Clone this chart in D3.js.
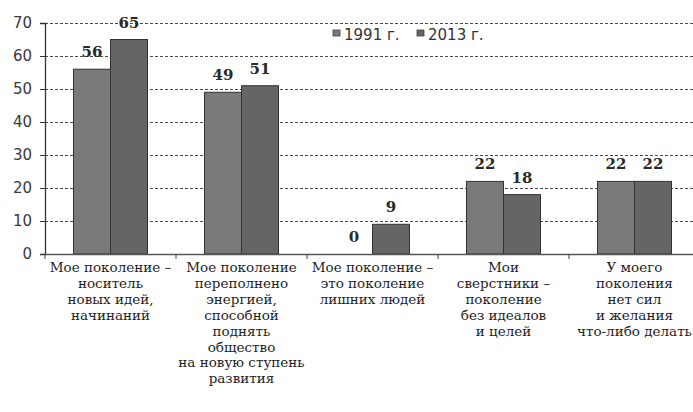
<!DOCTYPE html>
<html>
<head>
<meta charset="utf-8">
<script src="https://cdn.jsdelivr.net/npm/d3@7"></script>
<style>
  body { margin: 0; background: #fff; }
  svg { display: block; }
</style>
</head>
<body>
<div id="chart"></div>
<script>
const categories = [
  ['Мое поколение –', 'носитель', 'новых идей,', 'начинаний'],
  ['Мое поколение', 'переполнено', 'энергией,', 'способной', 'поднять', 'общество', 'на новую ступень', 'развития'],
  ['Мое поколение –', 'это поколение', 'лишних людей'],
  ['Мои', 'сверстники –', 'поколение', 'без идеалов', 'и целей'],
  ['У моего', 'поколения', 'нет сил', 'и желания', 'что-либо делать']
]
const seriesNames = ['1991 г.', '2013 г.']
const values1991 = [56, 49, 0, 22, 22]
const values2013 = [65, 51, 9, 18, 22]
const yTicks = [0, 10, 20, 30, 40, 50, 60, 70]

const width = 693, height = 412
const margin = { top: 23, left: 45, bottom: 158, right: -7 }
const colors = ['#7a7a7a', '#656565']

const svg = d3.select('#chart')
  .append('svg')
  .attr('width', width)
  .attr('height', height)

const y = d3.scaleLinear()
  .domain([0, 70])
  .range([height - margin.bottom, margin.top])

const x = d3.scaleBand()
  .domain(d3.range(categories.length))
  .range([margin.left, width - margin.right])
  .paddingInner(0.435)
  .paddingOuter(0.2175)

const xs = d3.scaleBand()
  .domain([0, 1])
  .range([0, x.bandwidth()])

// dashed gridlines
svg.append('g')
  .selectAll('line')
  .data(yTicks.filter(d => d > 0))
  .enter()
  .append('line')
  .attr('x1', margin.left)
  .attr('x2', width)
  .attr('y1', d => Math.round(y(d)) + 0.5)
  .attr('y2', d => Math.round(y(d)) + 0.5)
  .attr('stroke', '#4a4a4a')
  .attr('stroke-width', 1)
  .attr('stroke-dasharray', '3,2')

// y axis
const yAxis = svg.append('g')
  .attr('transform', `translate(${margin.left}, 0)`)
  .call(d3.axisLeft(y).tickValues(yTicks).tickSize(5).tickPadding(8))
yAxis.select('.domain').attr('stroke', '#333').attr('stroke-width', 1.3)
yAxis.selectAll('.tick line').attr('stroke', '#333')
yAxis.selectAll('text')
  .attr('font-family', 'DejaVu Sans, sans-serif')
  .attr('font-size', 15)
  .attr('fill', '#3a3a3a')

// bars
const groups = svg.append('g')
  .selectAll('g')
  .data(categories.map((c, i) => ({ i, vals: [values1991[i], values2013[i]] })))
  .enter()
  .append('g')
  .attr('transform', d => `translate(${x(d.i)}, 0)`)

groups.selectAll('rect')
  .data(d => d.vals.map((v, s) => ({ v, s })))
  .enter()
  .filter(d => d.v > 0)
  .append('rect')
  .attr('x', d => xs(d.s))
  .attr('y', d => y(d.v))
  .attr('width', xs.bandwidth())
  .attr('height', d => y(0) - y(d.v))
  .attr('fill', d => colors[d.s])
  .attr('stroke', '#333')
  .attr('stroke-width', 1)

groups.selectAll('text.val')
  .data(d => d.vals.map((v, s) => ({ v, s })))
  .enter()
  .append('text')
  .attr('class', 'val')
  .attr('x', d => xs(d.s) + xs.bandwidth() / 2)
  .attr('y', d => y(d.v) - 12)
  .attr('text-anchor', 'middle')
  .attr('font-family', 'DejaVu Serif, serif')
  .attr('font-weight', 'bold')
  .attr('font-size', 15)
  .attr('fill', '#2a2a2a')
  .text(d => d.v)

// x baseline and ticks at category boundaries
svg.append('line')
  .attr('x1', margin.left)
  .attr('x2', width)
  .attr('y1', y(0) + 0.5)
  .attr('y2', y(0) + 0.5)
  .attr('stroke', '#555')
  .attr('stroke-width', 1.3)

svg.append('g')
  .selectAll('line')
  .data(d3.range(categories.length + 1))
  .enter()
  .append('line')
  .attr('x1', i => margin.left + i * x.step())
  .attr('x2', i => margin.left + i * x.step())
  .attr('y1', y(0))
  .attr('y2', y(0) + 5)
  .attr('stroke', '#444')

// category labels
const labels = svg.append('g')
  .selectAll('text')
  .data(categories)
  .enter()
  .append('text')
  .attr('x', (d, i) => x(i) + x.bandwidth() / 2)
  .attr('y', y(0) + 18)
  .attr('text-anchor', 'middle')
  .attr('font-family', 'DejaVu Serif, serif')
  .attr('font-size', 13.5)
  .attr('fill', '#1e1e1e')

labels.selectAll('tspan')
  .data(d => d)
  .enter()
  .append('tspan')
  .attr('x', function () { return d3.select(this.parentNode).attr('x') })
  .attr('dy', (d, i) => i === 0 ? 0 : 15.9)
  .text(d => d)

// legend
const legend = svg.append('g')
  .selectAll('g')
  .data(seriesNames)
  .enter()
  .append('g')
  .attr('transform', (d, i) => `translate(${333 + i * 84}, 0)`)

legend.append('rect')
  .attr('x', 0)
  .attr('y', 30)
  .attr('width', 7)
  .attr('height', 6)
  .attr('fill', (d, i) => colors[i])
  .attr('stroke', '#444')
  .attr('stroke-width', 0.8)

legend.append('text')
  .attr('x', 11)
  .attr('y', 40)
  .attr('font-family', 'DejaVu Sans, sans-serif')
  .attr('font-size', 15)
  .attr('fill', '#333')
  .text(d => d)
</script>
</body>
</html>
